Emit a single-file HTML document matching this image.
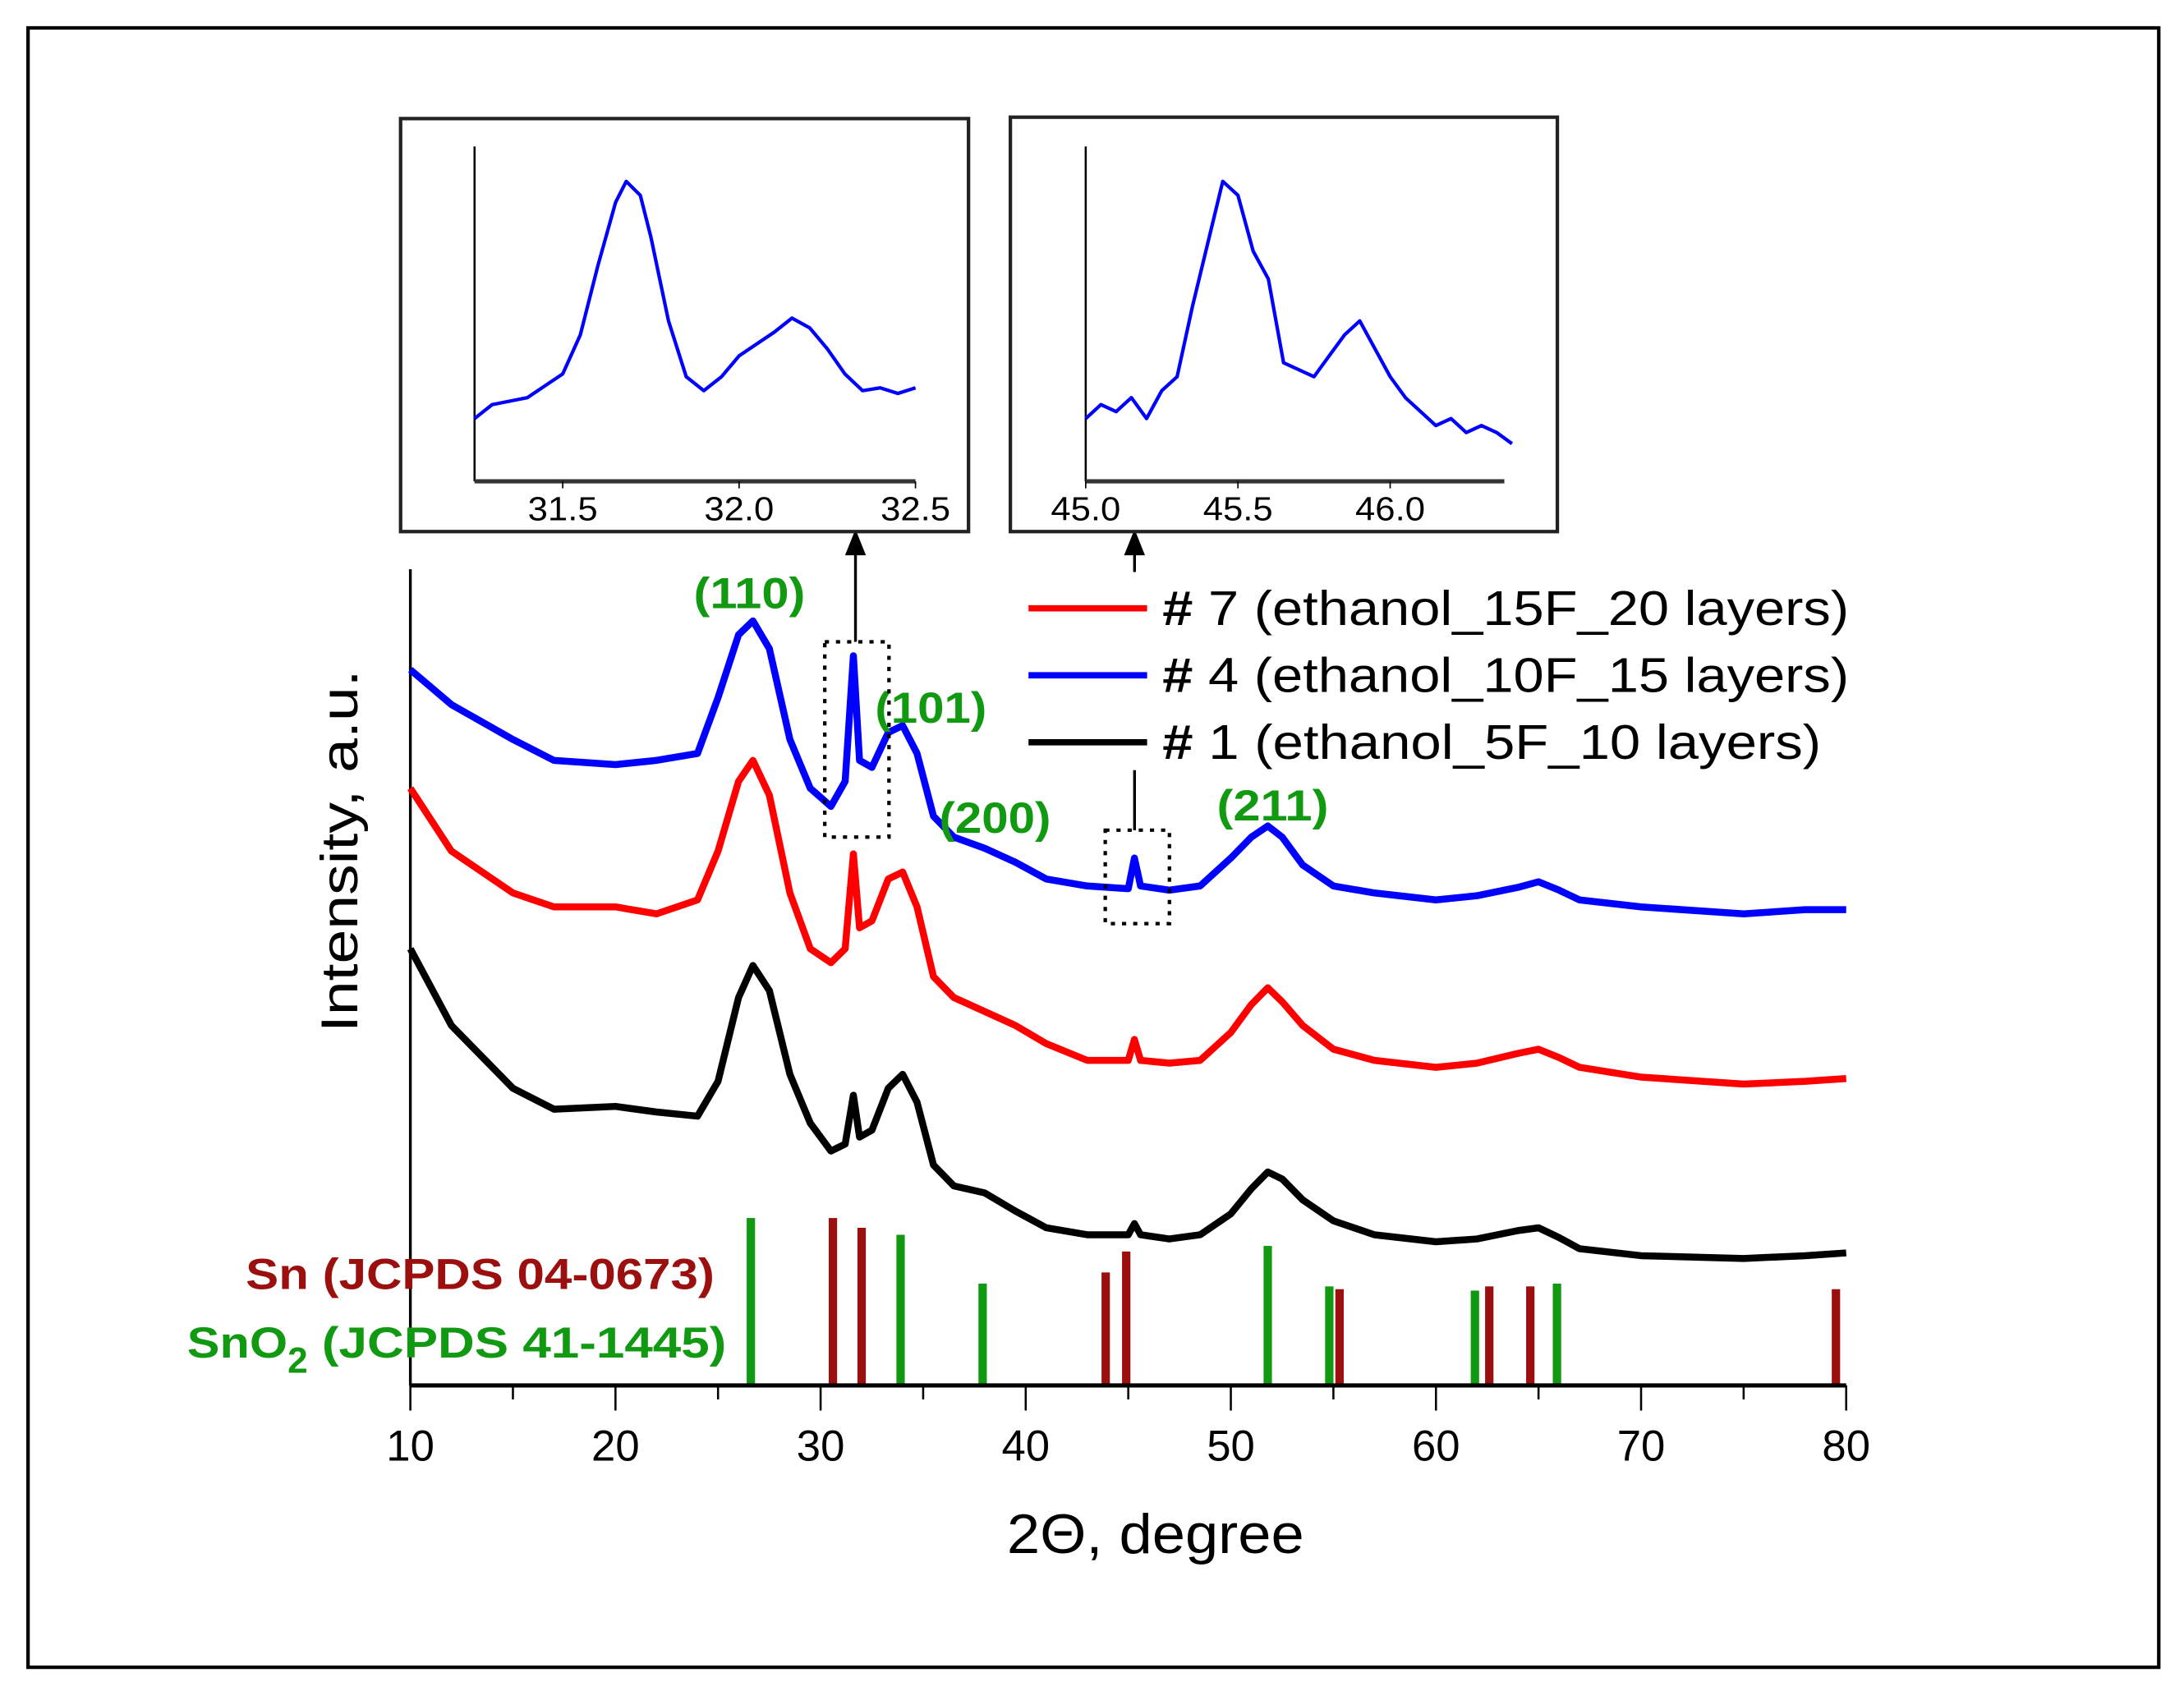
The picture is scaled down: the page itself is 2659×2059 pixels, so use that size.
<!DOCTYPE html>
<html><head><meta charset="utf-8"><style>
html,body{margin:0;padding:0;background:#fff;}
svg{display:block;font-family:"Liberation Sans",sans-serif;}
</style></head><body>
<svg id="chart" width="2659" height="2059" viewBox="0 0 1565 1212" xmlns="http://www.w3.org/2000/svg">
<rect x="20" y="20" width="1527" height="1175" fill="#fff" stroke="#000" stroke-width="2.5"/>
<g id="main"></g>
</svg>
<script>
// ---- main chart data ----
const xTicks = [10,20,30,40,50,60,70,80];
const blackX = [10,12,15,17,20,22,24,25,26,26.7,27.5,28.5,29.5,30.5,31.2,31.6,31.9,32.5,33.3,34,34.7,35.5,36.5,38,39.5,41,43,45,45.3,45.6,47,48.5,50,51,51.8,52.5,53.5,55,57,60,62,64,65,66,67,70,75,78,80];
const blackY = [313,258,213,198,200,196,193,218,278,301,283,223,188,168,173,208,178,183,213,223,203,158,143,138,125,113,108,108,116,108,105,108,123,141,153,148,133,118,108,103,105,111,113,106,98,93,91,93,95];
const redY   = [428,383,353,343,343,338,348,383,433,448,423,353,313,303,313,381,328,333,363,368,343,293,278,268,258,245,233,233,248,233,231,233,253,273,285,275,258,241,233,228,231,238,241,235,228,221,216,218,220];
const blueY  = [513,488,463,448,445,448,453,493,538,548,528,463,428,415,433,523,448,443,468,473,453,408,393,385,375,363,358,356,378,358,355,358,378,393,401,393,373,358,353,348,351,357,361,355,348,343,338,341,341];
const sno2Pos = [26.6,33.9,37.9,51.8,54.8,61.9,65.9];
const sno2H   = [120,108,73,100,71,68,73];
const snPos   = [30.6,32.0,43.9,44.9,55.3,62.6,64.6,79.5];
const snH     = [120,113,81,96,69,71,71,69];
// inset 1
const in1X = [31.25,31.3,31.4,31.5,31.55,31.6,31.65,31.68,31.72,31.75,31.8,31.85,31.9,31.95,32.0,32.1,32.15,32.2,32.25,32.3,32.35,32.4,32.45,32.5];
const in1Y = [45,55,60,77,105,155,200,215,205,175,115,75,65,75,90,107,117,110,95,77,65,67,63,67];
const in1Ticks = [31.5,32.0,32.5];
// inset 2
const in2X = [45.0,45.05,45.1,45.15,45.2,45.25,45.3,45.35,45.4,45.45,45.5,45.55,45.6,45.65,45.7,45.75,45.8,45.85,45.9,45.95,46.0,46.05,46.1,46.15,46.2,46.25,46.3,46.35,46.4];
const in2Y = [45,55,50,60,45,65,75,125,170,215,205,165,145,85,80,75,90,105,115,95,75,60,50,40,45,35,40,35,27];
const in2Ticks = [45.0,45.5,46.0];

const NS="http://www.w3.org/2000/svg";
const g=document.getElementById('main');
function mk(tag,attrs,parent){const e=document.createElementNS(NS,tag);for(const k in attrs)e.setAttribute(k,attrs[k]);(parent||g).appendChild(e);return e;}
const X0=294,X1=1323,Y0=993;
const xs=v=>X0+(v-10)*(X1-X0)/70;
const ys=v=>Y0-v;

// sticks
sno2Pos.forEach((p,i)=>{const r=mk('rect',{x:xs(p)-3,y:ys(sno2H[i]),width:6,height:sno2H[i],fill:'#119a11'});

});
snPos.forEach((p,i)=>{const r=mk('rect',{x:xs(p)-3,y:ys(snH[i]),width:6,height:snH[i],fill:'#9b0f0f'});

});

// axes
let a=mk('line',{x1:X0,y1:408,x2:X0,y2:Y0,stroke:'#000','stroke-width':2});


a=mk('line',{x1:X0,y1:Y0,x2:X1,y2:Y0,stroke:'#000','stroke-width':3});


for(let v=10;v<=80;v+=5){const t=mk('line',{x1:xs(v),y1:Y0,x2:xs(v),y2:Y0+(v%10===0?18:10),stroke:'#000','stroke-width':1.5});

}
xTicks.forEach(v=>{const t=mk('text',{x:xs(v),y:1047,'font-size':31,'text-anchor':'middle'});t.textContent=v;

});
let t=mk('text',{x:828,y:1113,'font-size':40,'text-anchor':'middle',textLength:213,lengthAdjust:'spacingAndGlyphs'});t.textContent='2Θ, degree';


t=mk('text',{x:0,y:0,'font-size':37,'text-anchor':'middle',textLength:260,lengthAdjust:'spacingAndGlyphs',transform:'translate(256,610) rotate(-90)'});t.textContent='Intensity, a.u.';



// curves
function curve(xa,ya,fx,fy,color,w,name){const d=xa.map((v,i)=>(i?'L':'M')+fx(v).toFixed(1)+' '+fy(ya[i]).toFixed(1)).join(' ');
const p=mk('path',{d:d,fill:'none',stroke:color,'stroke-width':w,'stroke-linejoin':'round'});

}
curve(blackX,blackY,xs,ys,'#000',5,'series-1-black');
curve(blackX,redY,xs,ys,'#f00',5,'series-7-red');
curve(blackX,blueY,xs,ys,'#0000ff',5,'series-4-blue');

// peak labels
[['(110)',537,436],['(101)',667,518],['(200)',713,597],['(211)',912,588]].forEach(l=>{const e=mk('text',{x:l[1],y:l[2],'font-size':31,'font-weight':'bold','text-anchor':'middle',fill:'#119a11',textLength:80,lengthAdjust:'spacingAndGlyphs'});e.textContent=l[0];

});
t=mk('text',{x:512,y:924,'font-size':31,'font-weight':'bold','text-anchor':'end',fill:'#9b0f0f',textLength:336,lengthAdjust:'spacingAndGlyphs'});t.textContent='Sn (JCPDS 04-0673)';


t=mk('text',{x:134,y:973,'font-size':31,'font-weight':'bold',fill:'#119a11'});
t.innerHTML='<tspan textLength="72" lengthAdjust="spacingAndGlyphs">SnO</tspan><tspan dy="11" font-size="26">2</tspan><tspan dy="-11" textLength="300" lengthAdjust="spacingAndGlyphs"> (JCPDS 41-1445)</tspan>';



// legend
[['# 7 (ethanol_15F_20 layers)','#f00',436,492],['# 4 (ethanol_10F_15 layers)','#0000ff',484,492],['# 1 (ethanol_5F_10 layers)','#000',532,472]].forEach(l=>{
const ln=mk('line',{x1:737,y1:l[2],x2:822,y2:l[2],stroke:l[1],'stroke-width':4.5});


const e=mk('text',{x:833,y:l[2]+12,'font-size':35,textLength:l[3],lengthAdjust:'spacingAndGlyphs'});e.innerHTML='<tspan font-weight="bold">#</tspan>'+l[0].slice(1);

});

// dotted boxes & arrows
let b=mk('rect',{x:591,y:460,width:46,height:140,fill:'none',stroke:'#000','stroke-width':2.5,'stroke-dasharray':'3 5'});


b=mk('rect',{x:792,y:595,width:46,height:67,fill:'none',stroke:'#000','stroke-width':2.5,'stroke-dasharray':'3 5'});


let ar=mk('path',{d:'M613 460 L613 395 M607 397 L613 382 L619 397 Z',stroke:'#000','stroke-width':2,fill:'#000'});


ar=mk('path',{d:'M813 410 L813 397 M807 397 L813 382 L819 397 Z M813 552 L813 595',stroke:'#000','stroke-width':2,fill:'#000'});



// insets
function inset(bx,by,bw,bh,ax0,ax1,ay0,ay1,xmin,xmax,xa,ya,ticks,name){
const r=mk('rect',{x:bx,y:by,width:bw,height:bh,fill:'#fff',stroke:'#222','stroke-width':2.5});


const fx=v=>ax0+(v-xmin)*(ax1-ax0)/(xmax-xmin);
const fy=v=>ay1-v;
let l=mk('line',{x1:ax0,y1:ay0,x2:ax0,y2:ay1,stroke:'#000','stroke-width':1.5});


l=mk('line',{x1:ax0,y1:ay1,x2:ax1,y2:ay1,stroke:'#333','stroke-width':3});


ticks.forEach(v=>{const e=mk('text',{x:fx(v),y:ay1+28,'font-size':24,'text-anchor':'middle',textLength:50,lengthAdjust:'spacingAndGlyphs'});e.textContent=v.toFixed(1);


const tk=mk('line',{x1:fx(v),y1:ay1,x2:fx(v),y2:ay1+5,stroke:'#000','stroke-width':1});

});
curve(xa,ya,fx,fy,'#0000ff',2.5,name+'-curve');}
inset(287,85,407,296,340,656,105,345,31.25,32.5,in1X,in1Y,in1Ticks,'inset-1');
inset(724,84,392,297,778,1078,105,345,45.0,46.375,in2X,in2Y,in2Ticks,'inset-2');
</script>
</body></html>
